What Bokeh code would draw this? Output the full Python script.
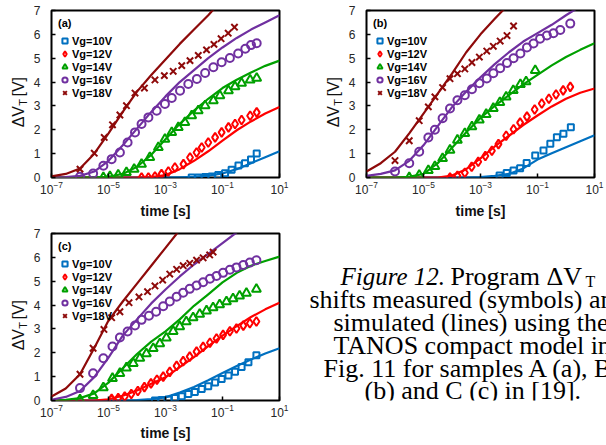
import numpy as np
from bokeh.plotting import figure
from bokeh.models import Range1d, FixedTicker, Legend, LegendItem
from bokeh.layouts import column, row
from bokeh.embed import file_html
from bokeh.resources import INLINE
from bokeh.core.properties import value

# ---------------- data (time as log10 of seconds, dVT in volts) ----------------
# Panel (a)
A10_LOGT = [-2.08, -1.85, -1.61, -1.38, -1.15, -0.91, -0.68, -0.44, -0.21, 0.0, 0.2]
A10_DVT = [0.0, 0.0, 0.02, 0.04, 0.1, 0.18, 0.32, 0.5, 0.6, 0.75, 1.01]
A10_FIT_LOGT = [-7, -3, -2.5, -2, -1.5, -1, -0.5, 0, 0.5, 1]
A10_FIT_DVT = [0, 0, 0.01, 0.03, 0.08, 0.17, 0.35, 0.6, 0.85, 1.1]
A12_LOGT = [-3.84, -3.6, -3.37, -3.14, -2.9, -2.67, -2.37, -2.14, -1.91, -1.73, -1.5, -1.26, -1.03, -0.79, -0.56, -0.33, -0.03, 0.2]
A12_DVT = [0.0, 0.0, 0.04, 0.14, 0.25, 0.42, 0.56, 0.84, 1.05, 1.26, 1.47, 1.68, 1.89, 2.1, 2.24, 2.41, 2.59, 2.73]
A12_FIT_LOGT = [-7, -4, -3.5, -3, -2.5, -2, -1.5, -1, -0.5, 0, 0.5, 1]
A12_FIT_DVT = [0, 0, 0.02, 0.1, 0.35, 0.7, 1.1, 1.55, 1.98, 2.35, 2.68, 2.96]
A14_LOGT = [-5.18, -4.95, -4.66, -4.37, -4.1, -3.84, -3.55, -3.25, -3.02, -2.78, -2.55, -2.32, -2.08, -1.85, -1.61, -1.32, -1.09, -0.79, -0.56, -0.33, -0.03, 0.2]
A14_DVT = [0.0, 0.04, 0.11, 0.21, 0.35, 0.56, 0.84, 1.26, 1.61, 1.89, 2.1, 2.31, 2.59, 2.8, 3.01, 3.22, 3.43, 3.64, 3.81, 3.95, 4.09, 4.16]
A14_FIT_LOGT = [-7, -6, -5.5, -5, -4.5, -4, -3.5, -3, -2.5, -2, -1.5, -1, -0.5, 0, 0.5, 1]
A14_FIT_DVT = [0, 0, 0.01, 0.03, 0.15, 0.45, 0.95, 1.6, 2.25, 2.8, 3.3, 3.75, 4.1, 4.4, 4.68, 4.9]
A16_LOGT = [-6.0, -5.54, -5.18, -4.89, -4.6, -4.33, -4.07, -3.84, -3.6, -3.31, -3.02, -2.78, -2.49, -2.2, -1.9, -1.61, -1.32, -1.03, -0.74, -0.45, -0.2, 0.0, 0.2]
A16_DVT = [0.03, 0.17, 0.49, 0.77, 1.05, 1.47, 1.89, 2.24, 2.52, 2.8, 3.08, 3.33, 3.64, 3.92, 4.13, 4.38, 4.62, 4.83, 5.01, 5.2, 5.4, 5.55, 5.63]
A16_FIT_LOGT = [-7, -6.5, -6, -5.5, -5, -4.5, -4, -3.5, -3, -2.5, -2, -1.5, -1, -0.5, 0, 0.5, 1]
A16_FIT_DVT = [0, 0.02, 0.07, 0.25, 0.7, 1.35, 2.05, 2.75, 3.4, 4.0, 4.5, 5.0, 5.45, 5.85, 6.2, 6.5, 6.8]
A18_LOGT = [-6.0, -5.5, -5.15, -4.86, -4.6, -4.37, -4.07, -3.74, -3.37, -3.04, -2.73, -2.43, -2.14, -1.85, -1.56, -1.3, -1.05, -0.8, -0.58]
A18_DVT = [0.35, 1.02, 1.68, 2.21, 2.62, 3.01, 3.54, 3.75, 4.09, 4.27, 4.45, 4.69, 4.9, 5.12, 5.35, 5.58, 5.82, 6.05, 6.3]
A18_FIT_LOGT = [-7, -6.5, -6, -5.5, -5, -4.5, -4, -3.5, -3, -2.5, -2, -1.5, -1.2]
A18_FIT_DVT = [0.05, 0.15, 0.38, 1.0, 1.85, 2.75, 3.6, 4.3, 4.95, 5.6, 6.2, 6.8, 7.2]

# Panel (b)
B10_LOGT = [-2.33, -2.08, -1.84, -1.61, -1.38, -1.08, -0.79, -0.55, -0.32, -0.09, 0.17]
B10_DVT = [0.08, 0.19, 0.29, 0.39, 0.61, 0.92, 1.13, 1.41, 1.69, 1.83, 2.11]
B10_FIT_LOGT = [-7, -3.5, -3, -2.5, -2, -1.5, -1, -0.5, 0, 0.5, 1]
B10_FIT_DVT = [0, 0, 0.02, 0.07, 0.15, 0.38, 0.75, 1.02, 1.27, 1.52, 1.77]
B12_LOGT = [-4.07, -3.81, -3.55, -3.31, -3.08, -2.83, -2.6, -2.37, -2.1, -1.84, -1.61, -1.37, -1.1, -0.85, -0.6, -0.35, -0.1, 0.15]
B12_DVT = [0.0, 0.07, 0.2, 0.45, 0.66, 0.9, 1.12, 1.4, 1.75, 2.02, 2.3, 2.55, 2.85, 3.1, 3.3, 3.48, 3.65, 3.8]
B12_FIT_LOGT = [-7, -4.5, -4, -3.5, -3, -2.5, -2, -1.5, -1, -0.5, 0, 0.5, 1]
B12_FIT_DVT = [0, 0, 0.08, 0.35, 0.8, 1.3, 1.75, 2.2, 2.6, 2.98, 3.3, 3.55, 3.73]
B14_LOGT = [-5.5, -5.15, -4.83, -4.6, -4.33, -4.07, -3.81, -3.55, -3.3, -3.04, -2.8, -2.55, -2.32, -2.1, -1.85, -1.6, -1.4, -1.08]
B14_DVT = [0.0, 0.1, 0.3, 0.46, 0.8, 1.15, 1.57, 1.85, 2.13, 2.41, 2.65, 2.9, 3.15, 3.38, 3.65, 3.9, 4.02, 4.49]
B14_FIT_LOGT = [-7, -6, -5.5, -5, -4.5, -4, -3.5, -3, -2.5, -2, -1.5, -1, -0.5, 0, 0.5, 1]
B14_FIT_DVT = [0, 0, 0.03, 0.15, 0.6, 1.25, 1.9, 2.5, 3.0, 3.45, 3.9, 4.3, 4.7, 5.05, 5.35, 5.63]
B16_LOGT = [-6.0, -5.5, -5.15, -4.83, -4.6, -4.33, -4.07, -3.81, -3.55, -3.3, -3.04, -2.78, -2.55, -2.31, -2.07, -1.84, -1.6, -1.37, -1.14, -0.91, -0.67, -0.44, -0.2, 0.15]
B16_DVT = [0.25, 0.6, 1.08, 1.68, 2.0, 2.48, 2.89, 3.24, 3.45, 3.7, 3.95, 4.15, 4.37, 4.58, 4.8, 5.0, 5.2, 5.45, 5.62, 5.82, 5.95, 6.05, 6.18, 6.45]
B16_FIT_LOGT = [-7, -6.5, -6, -5.5, -5, -4.5, -4, -3.5, -3, -2.5, -2, -1.5, -1, -0.5, 0, 0.4]
B16_FIT_DVT = [0.07, 0.15, 0.3, 0.7, 1.35, 2.15, 2.95, 3.6, 4.2, 4.75, 5.25, 5.7, 6.05, 6.4, 6.8, 7.1]
B18_LOGT = [-6.0, -5.5, -5.15, -4.83, -4.6, -4.33, -4.07, -3.81, -3.55, -3.3, -3.04, -2.78, -2.55, -2.31, -2.07, -1.84]
B18_DVT = [0.71, 1.54, 2.38, 2.96, 3.38, 3.77, 4.14, 4.35, 4.55, 4.82, 5.05, 5.3, 5.5, 5.72, 5.95, 6.35]
B18_FIT_LOGT = [-7, -6.5, -6, -5.5, -5, -4.5, -4, -3.5, -3, -2.5, -2.1]
B18_FIT_DVT = [0.25, 0.6, 1.08, 1.85, 2.68, 3.52, 4.35, 5.25, 6.0, 6.65, 7.15]

# Panel (c)
C10_LOGT = [-3.37, -3.14, -2.9, -2.67, -2.43, -2.2, -1.97, -1.73, -1.5, -1.26, -1.03, -0.79, -0.56, -0.33, -0.09, 0.19]
C10_DVT = [0.0, 0.02, 0.04, 0.1, 0.18, 0.27, 0.36, 0.48, 0.6, 0.75, 0.9, 1.05, 1.2, 1.4, 1.6, 1.9]
C10_FIT_LOGT = [-7, -4.5, -4, -3.5, -3, -2.5, -2, -1.5, -1, -0.5, 0, 0.5, 1]
C10_FIT_DVT = [0, 0, 0.02, 0.06, 0.13, 0.33, 0.57, 0.85, 1.15, 1.45, 1.72, 1.97, 2.19]
C12_LOGT = [-4.89, -4.66, -4.43, -4.2, -3.97, -3.74, -3.51, -3.3, -3.08, -2.85, -2.61, -2.38, -2.15, -1.91, -1.68, -1.44, -1.21, -0.98, -0.74, -0.51, -0.27, -0.04, 0.19]
C12_DVT = [0.07, 0.1, 0.17, 0.27, 0.4, 0.56, 0.72, 0.87, 1.0, 1.2, 1.45, 1.65, 1.84, 2.05, 2.25, 2.42, 2.6, 2.75, 2.9, 3.02, 3.14, 3.24, 3.31]
C12_FIT_LOGT = [-7, -5.5, -5, -4.5, -4, -3.5, -3, -2.5, -2, -1.5, -1, -0.5, 0, 0.5, 1]
C12_FIT_DVT = [0, 0, 0.05, 0.2, 0.42, 0.7, 0.97, 1.4, 1.82, 2.28, 2.72, 3.12, 3.5, 3.82, 4.1]
C14_LOGT = [-6.0, -5.54, -5.18, -4.86, -4.6, -4.37, -4.13, -3.9, -3.67, -3.43, -3.2, -2.97, -2.73, -2.5, -2.27, -2.03, -1.8, -1.56, -1.33, -1.1, -0.86, -0.63, -0.4, -0.16, 0.19]
C14_DVT = [0.03, 0.21, 0.54, 0.93, 1.14, 1.37, 1.55, 1.77, 1.96, 2.18, 2.38, 2.62, 2.9, 3.1, 3.3, 3.47, 3.62, 3.76, 3.89, 4.02, 4.14, 4.27, 4.38, 4.5, 4.67]
C14_FIT_LOGT = [-7, -6.5, -6, -5.5, -5, -4.5, -4, -3.5, -3, -2.5, -2, -1.5, -1, -0.5, 0, 0.5, 1]
C14_FIT_DVT = [0, 0.03, 0.1, 0.3, 0.75, 1.35, 1.95, 2.47, 2.9, 3.4, 3.97, 4.45, 4.95, 5.35, 5.65, 5.85, 6.03]
C16_LOGT = [-6.0, -5.54, -5.18, -4.86, -4.6, -4.33, -4.07, -3.84, -3.58, -3.33, -3.08, -2.85, -2.61, -2.38, -2.15, -1.91, -1.68, -1.44, -1.21, -0.98, -0.74, -0.51, -0.27, -0.04, 0.19]
C16_DVT = [0.52, 1.14, 1.77, 2.26, 2.64, 2.89, 3.14, 3.38, 3.55, 3.72, 3.95, 4.15, 4.35, 4.52, 4.68, 4.82, 4.96, 5.1, 5.22, 5.35, 5.48, 5.58, 5.68, 5.78, 5.88]
C16_FIT_LOGT = [-7, -6.5, -6, -5.5, -5, -4.5, -4, -3.5, -3, -2.5, -2, -1.5, -1, -0.5]
C16_FIT_DVT = [0.03, 0.15, 0.4, 0.98, 1.8, 2.72, 3.4, 4.07, 4.65, 5.2, 5.7, 6.15, 6.6, 7.05]
C18_LOGT = [-6.0, -5.54, -5.16, -4.89, -4.6, -4.28, -3.93, -3.63, -3.37, -3.1, -2.85, -2.61, -2.38, -2.15, -1.91, -1.68, -1.45, -1.33]
C18_DVT = [1.1, 2.19, 2.98, 3.47, 3.72, 4.1, 4.34, 4.56, 4.8, 5.05, 5.3, 5.5, 5.65, 5.75, 5.88, 5.98, 6.1, 6.22]
C18_FIT_LOGT = [-7, -6.5, -6, -5.5, -5, -4.5, -4, -3.5, -3, -2.5]
C18_FIT_DVT = [0.17, 0.5, 1.1, 2.2, 3.35, 4.15, 4.9, 5.65, 6.4, 7.15]

SERIES_LABELS = ["Vg=10V", "Vg=12V", "Vg=14V", "Vg=16V", "Vg=18V"]
X_TICKS = [1e-7, 1e-5, 1e-3, 1e-1, 1e1]
Y_TICKS = [0, 1, 2, 3, 4, 5, 6, 7]

CAPTION_LINES = [
    "shifts measured (symbols) and",
    "simulated (lines) using the",
    "TANOS compact model in",
    "Fig. 11 for samples A (a), B",
    "(b) and C (c) in [19].",
]

# ---------------- styles ----------------
COLORS = ["#0070C0", "#FF0000", "#00A000", "#7030A0", "#8E0A0A"]
MARKERS = ["square", "diamond", "triangle", "circle", "x"]
SIZES = [6, 9, 9, 8, 9]
SANS = "Liberation Sans"
FRAME_W, FRAME_H = 228, 167


def blank_fig(width, tb, bb, x_range, y_range):
    f = figure(frame_width=width, frame_height=FRAME_H, x_range=x_range, y_range=y_range,
               min_border_left=0, min_border_right=0, min_border_top=tb, min_border_bottom=bb,
               x_axis_location=None, y_axis_location=None,
               output_backend="svg", toolbar_location=None)
    f.grid.visible = False
    f.outline_line_color = None
    return f


def ylabel_fig(width, center_x, tb, bb):
    # y coordinates: pixels above the bottom of the (aligned) frame; rotated text,
    # each piece anchored at its upper end and centred on a vertical line
    f = blank_fig(width, tb, bb, Range1d(0, width), Range1d(0, FRAME_H))
    font = value(SANS)
    for txt, dx, y, fs in (("ΔV", 0, 71.5, "16px"), ("T", 4, 78.5, "11px"), ("[V]", 0, 100.5, "16px")):
        f.text(x=[center_x + dx], y=[y], text=[txt], angle=np.pi / 2, text_align="right",
               text_baseline="middle", text_font=font, text_font_size=fs,
               text_color="#111111")
    return f


def make_panel(tag, series, lb, rb, tb, bb, xlabel_standoff):
    p = figure(x_axis_type="log", x_range=Range1d(1e-7, 1e1), y_range=Range1d(0, 7),
               frame_width=FRAME_W, frame_height=FRAME_H,
               min_border_left=lb, min_border_right=rb, min_border_top=tb, min_border_bottom=bb,
               output_backend="svg", toolbar_location=None)
    p.xaxis.ticker = FixedTicker(ticks=X_TICKS)
    p.yaxis.ticker = FixedTicker(ticks=Y_TICKS)
    for ax in (p.xaxis[0], p.yaxis[0]):
        ax.axis_line_color = None
        ax.major_tick_in = 4
        ax.major_tick_out = 0
        ax.major_tick_line_color = "black"
        ax.major_tick_line_width = 1.5
        ax.minor_tick_line_color = None
        ax.major_label_text_font = SANS
        ax.major_label_text_font_size = "12px"
        ax.major_label_text_color = "#262626"
    p.xaxis.major_label_standoff = 3
    p.yaxis.major_label_standoff = 11
    p.xaxis.axis_label = "time [s]"
    p.xaxis.axis_label_text_font = SANS
    p.xaxis.axis_label_text_font_style = "bold"
    p.xaxis.axis_label_text_font_size = "14px"
    p.xaxis.axis_label_text_color = "#111111"
    p.xaxis.axis_label_standoff = xlabel_standoff
    p.grid.visible = False
    p.outline_line_color = "black"
    p.outline_line_width = 2
    p.outline_line_alpha = 1

    renderers = []
    for i, (lt, dv, flt, fdv) in enumerate(series):
        p.line(10 ** np.array(flt, dtype=float), fdv, line_color=COLORS[i], line_width=2.2,
               line_join="round")
    for i, (lt, dv, flt, fdv) in enumerate(series):
        r = p.scatter(10 ** np.array(lt, dtype=float), dv, marker=MARKERS[i], size=SIZES[i],
                      fill_color=None, line_color=COLORS[i], line_width=2)
        renderers.append(r)

    legend = Legend(items=[LegendItem(label=SERIES_LABELS[i], renderers=[renderers[i]])
                           for i in range(5)],
                    location="top_left", title=tag)
    legend.title_text_font = SANS
    legend.title_text_font_style = "bold"
    legend.title_text_font_size = "11px"
    legend.title_text_color = "black"
    legend.title_standoff = 5
    legend.label_text_font = SANS
    legend.label_text_font_style = "bold"
    legend.label_text_font_size = "11px"
    legend.label_text_color = "black"
    legend.glyph_width = 13
    legend.glyph_height = 13
    legend.label_height = 13
    legend.spacing = 0
    legend.padding = 0
    legend.margin = 7
    legend.label_standoff = 1
    legend.border_line_color = None
    legend.background_fill_alpha = 0
    p.add_layout(legend)
    return p


def series_of(prefix):
    g = globals()
    return [(g[f"{prefix}{v}_LOGT"], g[f"{prefix}{v}_DVT"], g[f"{prefix}{v}_FIT_LOGT"], g[f"{prefix}{v}_FIT_DVT"])
            for v in (10, 12, 14, 16, 18)]


# row 1: y borders 10 / 43 ; row 2: 12 / 44
la = ylabel_fig(30, 18, 10, 43)
pa = make_panel("(a)", series_of("A"), 20, 22, 10, 43, 6)
lb_ = ylabel_fig(44, 32, 10, 43)
pb = make_panel("(b)", series_of("B"), 19, 15, 10, 43, 6)
lc = ylabel_fig(30, 18, 12, 44)
pc = make_panel("(c)", series_of("C"), 20, 22, 12, 44, 5)

# caption panel: coordinates in page pixels (frame spans x 300..606, y 232..399)
cap = blank_fig(306, 12, 44, Range1d(300, 606), Range1d(399, 232))
SERIF = value("Liberation Serif")
cap.text(x=[339], y=[275], text=["Figure 12."], text_font=SERIF, text_font_style="italic",
         text_font_size="25px", text_baseline="alphabetic", text_align="left", text_color="black")
cap.text(x=[449], y=[275], text=["Program ΔV"], text_font=SERIF,
         text_font_size="26px", text_baseline="alphabetic", text_align="left", text_color="black")
cap.text(x=[584], y=[280], text=["T"], text_font=SERIF,
         text_font_size="16px", text_baseline="alphabetic", text_align="left", text_color="black")
cap.text(x=[308, 332, 332, 322, 363], y=[298, 321, 344, 367, 389], text=CAPTION_LINES,
         text_font=SERIF, text_font_size="26px", text_baseline="alphabetic", text_align="left",
         text_color="black")

layout = column(row(la, pa, lb_, pb), row(lc, pc, cap))
open("out.html", "w").write(file_html(layout, INLINE))
